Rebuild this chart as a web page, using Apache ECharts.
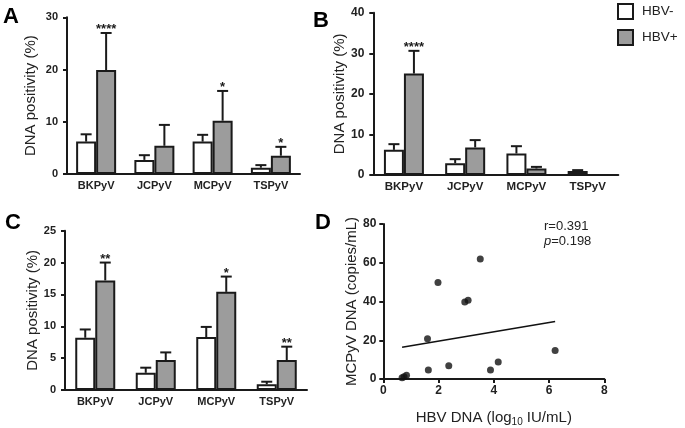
<!DOCTYPE html>
<html>
<head>
<meta charset="utf-8">
<script src="https://cdn.jsdelivr.net/npm/echarts@6/dist/echarts.min.js"></script>
<style>html,body{margin:0;padding:0;background:#fff}#c{width:685px;height:428px}</style>
</head>
<body>
<div id="c"></div>
<script>
// ---------- data ----------
const categories = ['BKPyV', 'JCPyV', 'MCPyV', 'TSPyV'];
const seriesNames = ['HBV-', 'HBV+'];

// Panel A
const aNeg = [6.2, 2.7, 6.2, 1.2];
const aNegTop = [7.6, 3.6, 7.5, 1.7];
const aPos = [19.9, 5.4, 10.2, 3.5];
const aPosTop = [27.0, 9.4, 15.9, 5.2];
const aSig = ['****', '', '*', '*'];
const aTicks = [0, 30, 10];

// Panel B
const bNeg = [6.2, 2.9, 5.3, 1.0];
const bNegTop = [7.6, 3.9, 7.1, 1.2];
const bPos = [25.0, 6.8, 1.6, 0];
const bPosTop = [30.6, 8.6, 2.0, null];
const bSig = ['****', '', '', ''];
const bTicks = [0, 40, 10];

// Panel C
const cNeg = [8.2, 2.7, 8.3, 0.9];
const cNegTop = [9.5, 3.5, 9.9, 1.3];
const cPos = [17.2, 4.7, 15.4, 4.7];
const cPosTop = [20.0, 5.9, 17.8, 6.8];
const cSig = ['**', '', '*', '**'];
const cTicks = [0, 25, 5];

// Panel D
const hbvDna = [0.68, 0.75, 0.84, 1.60, 1.63, 1.98, 2.37, 2.95, 3.07, 3.51, 3.88, 4.16, 6.22];
const mcpyvDna = [0.7, 1.2, 2.0, 20.8, 4.6, 49.8, 6.8, 39.7, 40.7, 61.9, 4.6, 8.8, 14.7];
const fitX = [0.68, 6.22];
const fitY = [16.4, 29.7];
const dXTicks = [0, 8, 2];
const dYTicks = [0, 80, 20];
const rText = 'r=0.391';
const pText = '0.198';

// ---------- style ----------
const FONT = '"Liberation Sans", Arial, sans-serif';
const INK = '#1a1a1a';
const GRAY = '#9c9c9c';
const BAR_W = 20;

const chart = echarts.init(document.getElementById('c'), null, { renderer: 'canvas' });

function catAxis(gi, fs) {
  return {
    type: 'category', gridIndex: gi, data: categories,
    axisLine: { lineStyle: { color: INK, width: 2 } },
    axisTick: { show: false },
    axisLabel: { color: '#222', fontFamily: FONT, fontSize: fs, fontWeight: 'bold', margin: 6 }
  };
}
function valAxis(gi, t, nameGap, fs) {
  return {
    type: 'value', gridIndex: gi, min: t[0], max: t[1], interval: t[2],
    name: 'DNA positivity (%)', nameLocation: 'middle', nameGap: nameGap,
    nameTextStyle: { color: '#222', fontFamily: FONT, fontSize: 15 },
    splitLine: { show: false },
    axisLine: { show: true, lineStyle: { color: INK, width: 2 } },
    axisTick: { show: true, length: 4, lineStyle: { color: INK, width: 2 } },
    axisLabel: { color: '#222', fontFamily: FONT, fontSize: fs, fontWeight: 'bold', margin: 9 }
  };
}
function bars(gi, vals, idx) {
  return {
    type: 'bar', name: seriesNames[idx], xAxisIndex: gi, yAxisIndex: gi,
    data: vals, barWidth: BAR_W, barGap: '0%',
    itemStyle: { color: idx === 0 ? '#ffffff' : GRAY, borderColor: INK, borderWidth: 2 },
    emphasis: { disabled: true }, z: 2
  };
}
function errs(gi, vals, tops, side, sig) {
  return {
    type: 'custom', xAxisIndex: gi, yAxisIndex: gi, z: 3, silent: true,
    data: tops.map((t, i) => [i, t == null ? -1 : t, vals[i], sig ? i : -1]),
    renderItem: function (params, api) {
      const i = api.value(0), top = api.value(1), base = api.value(2), si = api.value(3);
      if (top < 0) return null;
      const p0 = api.coord([i, base]);
      const p1 = api.coord([i, top]);
      const x = p0[0] + side * BAR_W / 2;
      const children = [
        { type: 'line', shape: { x1: x, y1: p0[1], x2: x, y2: p1[1] }, style: { stroke: INK, lineWidth: 2 } },
        { type: 'line', shape: { x1: x - 5.5, y1: p1[1], x2: x + 5.5, y2: p1[1] }, style: { stroke: INK, lineWidth: 2 } }
      ];
      if (sig && sig[si]) {
        children.push({ type: 'text', x: x, y: p1[1] + 3,
          style: { text: sig[si], fill: INK, font: 'bold 13px ' + FONT, align: 'center', verticalAlign: 'bottom' } });
      }
      return { type: 'group', children: children };
    }
  };
}
const letterStyle = { fontFamily: FONT, fontSize: 22, fontWeight: 'bold', color: '#000' };

const option = {
  animation: false,
  backgroundColor: '#fff',
  grid: [
    { left: 67, top: 17.3, width: 233, height: 156.7 },
    { left: 373.3, top: 12.7, width: 245, height: 162.3 },
    { left: 65, top: 230.7, width: 242, height: 159.3 },
    { left: 383.3, top: 224, width: 221, height: 157 }
  ],
  xAxis: [
    catAxis(0, 11), catAxis(1, 11.5), catAxis(2, 11),
    {
      type: 'value', gridIndex: 3, min: dXTicks[0], max: dXTicks[1], interval: dXTicks[2],
      name: 'HBV DNA (log{sub|10} IU/mL)', nameLocation: 'middle', nameGap: 29,
      nameTextStyle: { color: '#222', fontFamily: FONT, fontSize: 15,
        rich: { sub: { fontFamily: FONT, fontSize: 10, color: '#222', padding: [9, 0, 0, 0] } } },
      splitLine: { show: false },
      axisLine: { lineStyle: { color: INK, width: 2 } },
      axisTick: { show: true, length: 4, lineStyle: { color: INK, width: 2 } },
      axisLabel: { color: '#222', fontFamily: FONT, fontSize: 12, fontWeight: 'bold', margin: 6 }
    }
  ],
  yAxis: [
    valAxis(0, aTicks, 29, 11), valAxis(1, bTicks, 20, 12), valAxis(2, cTicks, 20, 11),
    {
      type: 'value', gridIndex: 3, min: dYTicks[0], max: dYTicks[1], interval: dYTicks[2],
      name: 'MCPyV DNA (copies/mL)', nameLocation: 'middle', nameGap: 22,
      nameTextStyle: { color: '#222', fontFamily: FONT, fontSize: 15 },
      splitLine: { show: false },
      axisLine: { show: true, lineStyle: { color: INK, width: 2 } },
      axisTick: { show: true, length: 4, lineStyle: { color: INK, width: 2 } },
      axisLabel: { color: '#222', fontFamily: FONT, fontSize: 12, fontWeight: 'bold', margin: 7 }
    }
  ],
  legend: {
    data: seriesNames, orient: 'vertical', left: 612, top: -2,
    icon: 'rect', itemWidth: 15, itemHeight: 15, itemGap: 9,
    textStyle: { color: '#222', fontFamily: FONT, fontSize: 13.5, padding: [0, 0, 0, 4] },
    selectedMode: false
  },
  title: [
    { text: 'A', left: -2, top: 1, textStyle: letterStyle },
    { text: 'B', left: 308, top: 5, textStyle: letterStyle },
    { text: 'C', left: 0, top: 207, textStyle: letterStyle },
    { text: 'D', left: 310, top: 207, textStyle: letterStyle },
    { text: rText + '\n{i|p}=' + pText, left: 539, top: 214,
      textStyle: { fontFamily: FONT, fontSize: 13, fontWeight: 'normal', color: '#222', lineHeight: 15,
        rich: { i: { fontFamily: FONT, fontSize: 13, fontStyle: 'italic', color: '#222' } } } }
  ],
  series: [
    bars(0, aNeg, 0), bars(0, aPos, 1), errs(0, aNeg, aNegTop, -1, null), errs(0, aPos, aPosTop, 1, aSig),
    bars(1, bNeg, 0), bars(1, bPos, 1), errs(1, bNeg, bNegTop, -1, null), errs(1, bPos, bPosTop, 1, bSig),
    bars(2, cNeg, 0), bars(2, cPos, 1), errs(2, cNeg, cNegTop, -1, null), errs(2, cPos, cPosTop, 1, cSig),
    {
      type: 'scatter', xAxisIndex: 3, yAxisIndex: 3, symbolSize: 7,
      itemStyle: { color: '#111' }, data: hbvDna.map((x, i) => [x, mcpyvDna[i]]), silent: true
    },
    {
      type: 'line', xAxisIndex: 3, yAxisIndex: 3, showSymbol: false, silent: true,
      lineStyle: { color: '#111', width: 1.6 }, data: fitX.map((x, i) => [x, fitY[i]])
    }
  ]
};
chart.setOption(option);
</script>
</body>
</html>
